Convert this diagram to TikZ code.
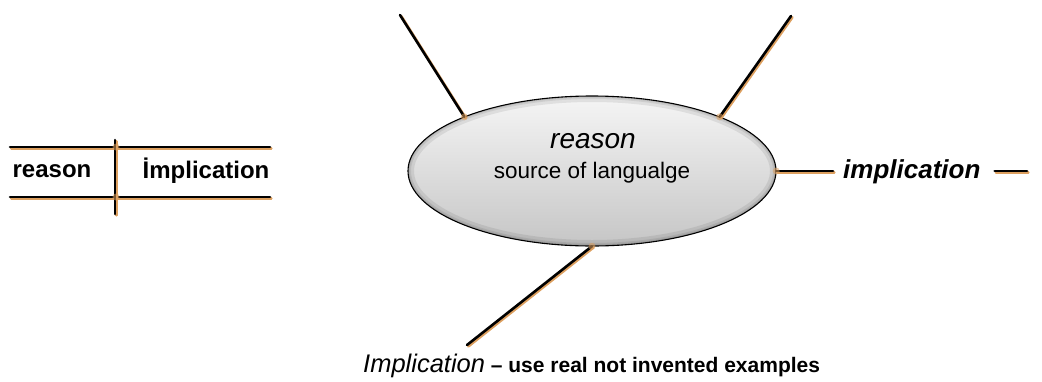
\documentclass[tikz,border=0pt]{standalone}
\usepackage{fontspec}
\setmainfont{Liberation Sans}
\usetikzlibrary{shapes.geometric}
\definecolor{shadoworange}{HTML}{DDA060}
\tikzset{
  stick/.style={line width=2.6pt, black, line cap=round,
    preaction={draw=shadoworange, line width=2.8pt, line cap=round,
      transform canvas={xshift=1.3pt,yshift=-1.3pt}}},
  glow/.style={fill=shadoworange, opacity=0.55, circle, inner sep=0pt, minimum size=7pt},
  lbl/.style={inner sep=0pt, font=\fontsize{24}{26}\selectfont\bfseries},
  rim/.style={draw=black, opacity=0.08},
}
\begin{document}
\begin{tikzpicture}[x=1pt,y=-1pt]
\useasboundingbox (0,0) rectangle (1042,381);
% left diagram
\coordinate (tl) at (10,147);
\coordinate (tr) at (270,147);
\coordinate (bl) at (10,197);
\coordinate (br) at (270,197);
\coordinate (vt) at (115,140);
\coordinate (vb) at (115,214);
\draw[stick] (tl) -- (tr);
\draw[stick] (bl) -- (br);
\draw[stick] (vt) -- (vb);
\node[glow] (g1) at (116,147) {};
\node[glow] (g2) at (116,197) {};
\node[lbl] (lr) at (52,171) {reason};
\node[lbl] (li) at (206,171) {İmplication};
% ellipse
\node[ellipse, minimum width=368pt, minimum height=150pt,
  inner sep=0pt, top color=gray!8, bottom color=gray!45] (E) at (592,171) {};
\begin{scope}
  \clip (E.center) ellipse [x radius=184pt, y radius=75pt];
  \draw[rim, line width=12pt, xshift=2pt, yshift=-2pt] (E.center) ellipse [x radius=184pt, y radius=75pt];
  \draw[rim, line width=6pt] (E.center) ellipse [x radius=184pt, y radius=75pt];
  \draw[rim, line width=3pt] (E.center) ellipse [x radius=184pt, y radius=75pt];
\end{scope}
\draw[black, line width=1.1pt] (E.center) ellipse [x radius=184pt, y radius=75pt];
\node[inner sep=0pt, font=\fontsize{28}{30}\selectfont\itshape] (er) at (593,141) {reason};
\node[inner sep=0pt, font=\fontsize{22.5}{24}\selectfont] (es) at (592,173) {source of langualge};
% spokes
\coordinate (ul) at (400,15);
\coordinate (ur) at (791,16);
\coordinate (bo) at (467,345);
\node[font=\fontsize{26}{28}\selectfont\bfseries\itshape, inner sep=0pt, anchor=west] (ri) at (843,172) {implication};
\coordinate (re) at (1027,171);
\draw[stick] (ul) -- (E.157);
\draw[stick] (ur) -- (E.23);
\draw[stick] (E.east) -- ([xshift=-10pt]E.east -| ri.west);
\draw[stick] ([xshift=14pt]E.east -| ri.east) -- (re);
\draw[stick] (E.270) -- (bo);
\node[glow] at (E.157) {};
\node[glow] at (E.23) {};
\node[glow] at (E.270) {};
\node[glow] at (E.east) {};
% bottom label
\node[anchor=west, inner sep=0pt] (bt) at (363,366)
  {\fontsize{21}{23}\selectfont{\fontsize{25.5}{27}\selectfont\itshape Implication} {\bfseries -- use real not invented examples}};
\end{tikzpicture}
\end{document}
